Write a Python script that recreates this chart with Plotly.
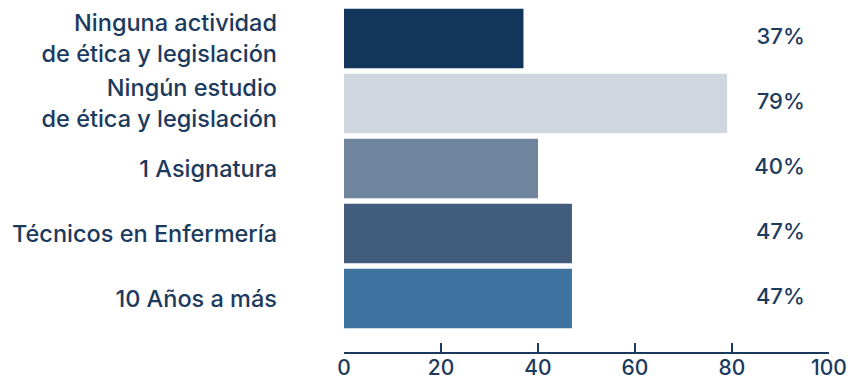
import plotly.graph_objects as go

categories = ["Ninguna actividad<br>de ética y legislación",
              "Ningún estudio<br>de ética y legislación",
              "1 Asignatura",
              "Técnicos en Enfermería",
              "10 Años a más"]
values = [37, 79, 40, 47, 47]
value_labels = ["37%", "79%", "40%", "47%", "47%"]
bar_colors = ["#12355b", "#cfd6df", "#6f859e", "#425c7b", "#3e729f"]
tick_values = [0, 20, 40, 60, 80, 100]

TEXT = "#1b3a5e"
FONT = "Inter, Noto Sans, sans-serif"
pos = list(range(len(categories)))

fig = go.Figure()
fig.add_trace(go.Bar(
    x=values, y=pos, orientation="h",
    marker=dict(color=bar_colors, line=dict(width=0)),
    width=0.915, hoverinfo="skip"))
fig.add_trace(go.Scatter(
    x=[95] * len(values), y=pos, mode="text",
    text=value_labels, textposition="middle left",
    textfont=dict(size=22, color=TEXT, family=FONT, weight=500),
    hoverinfo="skip"))

fig.update_layout(
    width=854, height=381,
    margin=dict(l=344, r=25, t=5.5, b=29, autoexpand=False),
    paper_bgcolor="white", plot_bgcolor="white",
    showlegend=False,
    font=dict(family=FONT, color=TEXT, size=22),
    xaxis=dict(range=[0, 100], tickvals=tick_values, showgrid=False,
               automargin=False,
               zeroline=False, showline=True, linecolor=TEXT, linewidth=2,
               ticks="inside", ticklen=9, tickwidth=2, tickcolor=TEXT,
               ticklabelstandoff=-4,
               tickfont=dict(size=21, color=TEXT, family=FONT, weight=500),
               fixedrange=True),
    yaxis=dict(range=[4.823, -0.5], tickvals=pos, ticktext=categories,
               automargin=False,
               showgrid=False, zeroline=False, showline=False, ticks="",
               ticklabelstandoff=66,
               tickfont=dict(size=23.5, color=TEXT, family=FONT, weight=500),
               fixedrange=True),
)
fig.write_html("out.html")
